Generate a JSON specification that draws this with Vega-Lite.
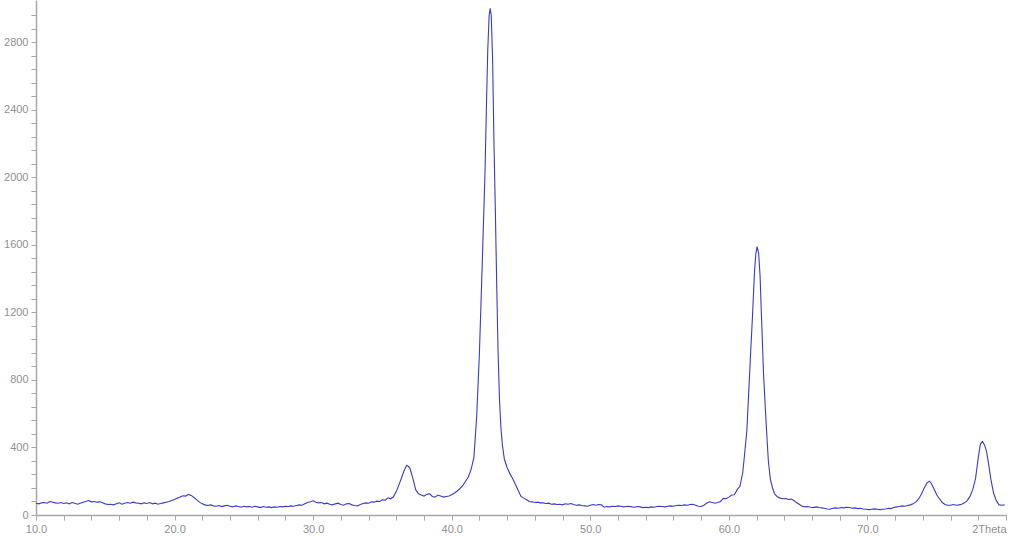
{
  "$schema": "https://vega.github.io/schema/vega-lite/v6.json",
  "width": 970,
  "height": 515,
  "autosize": {"type": "none"},
  "padding": {"left": 36, "top": 0, "right": 4, "bottom": 21},
  "background": "white",
  "view": {"stroke": null},
  "config": {"font": "Liberation Sans"},
  "data": {"values": [
    {"t":10.0,"c":70},{"t":10.2,"c":66},{"t":10.4,"c":72},{"t":10.6,"c":74},{"t":10.8,"c":70},{"t":11.0,"c":80},{"t":11.2,"c":76},{"t":11.4,"c":72},{"t":11.6,"c":70},{"t":11.8,"c":74},
    {"t":12.0,"c":68},{"t":12.2,"c":72},{"t":12.4,"c":66},{"t":12.6,"c":74},{"t":12.8,"c":70},{"t":13.0,"c":64},{"t":13.2,"c":70},{"t":13.4,"c":76},{"t":13.6,"c":80},{"t":13.8,"c":86},
    {"t":14.0,"c":78},{"t":14.2,"c":80},{"t":14.4,"c":76},{"t":14.6,"c":78},{"t":14.8,"c":72},{"t":15.0,"c":66},{"t":15.2,"c":62},{"t":15.4,"c":64},{"t":15.6,"c":60},{"t":15.8,"c":66},
    {"t":16.0,"c":72},{"t":16.2,"c":64},{"t":16.4,"c":70},{"t":16.6,"c":74},{"t":16.8,"c":70},{"t":17.0,"c":76},{"t":17.2,"c":72},{"t":17.4,"c":70},{"t":17.6,"c":66},{"t":17.8,"c":72},
    {"t":18.0,"c":68},{"t":18.2,"c":74},{"t":18.4,"c":66},{"t":18.6,"c":70},{"t":18.8,"c":64},{"t":19.0,"c":68},{"t":19.2,"c":72},{"t":19.4,"c":76},{"t":19.6,"c":80},{"t":19.8,"c":86},
    {"t":20.0,"c":92},{"t":20.2,"c":100},{"t":20.4,"c":106},{"t":20.6,"c":114},{"t":20.8,"c":112},{"t":21.0,"c":122},{"t":21.2,"c":116},{"t":21.4,"c":104},{"t":21.6,"c":90},{"t":21.8,"c":76},
    {"t":22.0,"c":66},{"t":22.2,"c":60},{"t":22.4,"c":56},{"t":22.6,"c":60},{"t":22.8,"c":54},{"t":23.0,"c":52},{"t":23.2,"c":56},{"t":23.4,"c":50},{"t":23.6,"c":54},{"t":23.8,"c":58},
    {"t":24.0,"c":52},{"t":24.2,"c":48},{"t":24.4,"c":54},{"t":24.6,"c":50},{"t":24.8,"c":46},{"t":25.0,"c":52},{"t":25.2,"c":48},{"t":25.4,"c":50},{"t":25.6,"c":46},{"t":25.8,"c":52},
    {"t":26.0,"c":48},{"t":26.2,"c":44},{"t":26.4,"c":50},{"t":26.6,"c":46},{"t":26.8,"c":48},{"t":27.0,"c":44},{"t":27.2,"c":48},{"t":27.4,"c":46},{"t":27.6,"c":50},{"t":27.8,"c":48},
    {"t":28.0,"c":52},{"t":28.2,"c":50},{"t":28.4,"c":54},{"t":28.6,"c":52},{"t":28.8,"c":56},{"t":29.0,"c":60},{"t":29.2,"c":58},{"t":29.4,"c":66},{"t":29.6,"c":74},{"t":29.8,"c":78},
    {"t":30.0,"c":84},{"t":30.2,"c":76},{"t":30.4,"c":72},{"t":30.6,"c":74},{"t":30.8,"c":66},{"t":31.0,"c":70},{"t":31.2,"c":64},{"t":31.4,"c":60},{"t":31.6,"c":66},{"t":31.8,"c":70},
    {"t":32.0,"c":62},{"t":32.2,"c":58},{"t":32.4,"c":66},{"t":32.6,"c":68},{"t":32.8,"c":60},{"t":33.0,"c":56},{"t":33.2,"c":54},{"t":33.4,"c":62},{"t":33.6,"c":68},{"t":33.8,"c":72},
    {"t":34.0,"c":70},{"t":34.2,"c":78},{"t":34.4,"c":76},{"t":34.6,"c":82},{"t":34.8,"c":80},{"t":35.0,"c":90},{"t":35.2,"c":88},{"t":35.4,"c":102},{"t":35.6,"c":96},{"t":35.8,"c":108},
    {"t":36.0,"c":140},{"t":36.2,"c":180},{"t":36.4,"c":225},{"t":36.6,"c":270},{"t":36.75,"c":294},{"t":36.9,"c":286},{"t":37.0,"c":274},{"t":37.2,"c":215},{"t":37.4,"c":150},{"t":37.6,"c":126},
    {"t":37.8,"c":118},{"t":38.0,"c":112},{"t":38.2,"c":122},{"t":38.4,"c":126},{"t":38.6,"c":110},{"t":38.8,"c":106},{"t":39.0,"c":118},{"t":39.2,"c":112},{"t":39.4,"c":106},{"t":39.6,"c":110},
    {"t":39.8,"c":112},{"t":40.0,"c":120},{"t":40.2,"c":130},{"t":40.4,"c":142},{"t":40.6,"c":157},{"t":40.8,"c":175},{"t":41.0,"c":200},{"t":41.2,"c":225},{"t":41.4,"c":270},{"t":41.6,"c":340},
    {"t":41.8,"c":580},{"t":42.0,"c":960},{"t":42.2,"c":1480},{"t":42.3,"c":1754},{"t":42.4,"c":2020},{"t":42.5,"c":2400},{"t":42.6,"c":2750},{"t":42.7,"c":2960},{"t":42.78,"c":3000},{"t":42.85,"c":2960},
    {"t":42.95,"c":2700},{"t":43.05,"c":2200},{"t":43.15,"c":1800},{"t":43.25,"c":1350},{"t":43.35,"c":950},{"t":43.45,"c":680},{"t":43.55,"c":520},{"t":43.65,"c":420},{"t":43.8,"c":330},{"t":44.0,"c":280},
    {"t":44.2,"c":245},{"t":44.4,"c":215},{"t":44.6,"c":180},{"t":44.8,"c":145},{"t":45.0,"c":110},{"t":45.2,"c":100},{"t":45.4,"c":90},{"t":45.6,"c":80},{"t":45.8,"c":78},{"t":46.0,"c":74},
    {"t":46.2,"c":76},{"t":46.4,"c":72},{"t":46.6,"c":72},{"t":46.8,"c":68},{"t":47.0,"c":70},{"t":47.2,"c":64},{"t":47.4,"c":66},{"t":47.6,"c":62},{"t":47.8,"c":64},{"t":48.0,"c":60},
    {"t":48.2,"c":66},{"t":48.4,"c":64},{"t":48.6,"c":68},{"t":48.8,"c":62},{"t":49.0,"c":58},{"t":49.2,"c":60},{"t":49.4,"c":56},{"t":49.6,"c":54},{"t":49.8,"c":52},{"t":50.0,"c":58},
    {"t":50.2,"c":62},{"t":50.4,"c":58},{"t":50.6,"c":62},{"t":50.8,"c":60},{"t":51.0,"c":46},{"t":51.2,"c":50},{"t":51.4,"c":48},{"t":51.6,"c":52},{"t":51.8,"c":50},{"t":52.0,"c":54},
    {"t":52.2,"c":52},{"t":52.4,"c":48},{"t":52.6,"c":50},{"t":52.8,"c":52},{"t":53.0,"c":48},{"t":53.2,"c":46},{"t":53.4,"c":50},{"t":53.6,"c":48},{"t":53.8,"c":44},{"t":54.0,"c":46},
    {"t":54.2,"c":44},{"t":54.4,"c":48},{"t":54.6,"c":46},{"t":54.8,"c":50},{"t":55.0,"c":52},{"t":55.2,"c":50},{"t":55.4,"c":48},{"t":55.6,"c":52},{"t":55.8,"c":54},{"t":56.0,"c":52},
    {"t":56.2,"c":56},{"t":56.4,"c":58},{"t":56.6,"c":56},{"t":56.8,"c":60},{"t":57.0,"c":58},{"t":57.2,"c":62},{"t":57.4,"c":64},{"t":57.6,"c":58},{"t":57.8,"c":52},{"t":58.0,"c":50},
    {"t":58.2,"c":58},{"t":58.4,"c":70},{"t":58.6,"c":78},{"t":58.8,"c":74},{"t":59.0,"c":70},{"t":59.2,"c":74},{"t":59.4,"c":80},{"t":59.6,"c":98},{"t":59.8,"c":96},{"t":60.0,"c":106},
    {"t":60.2,"c":118},{"t":60.4,"c":120},{"t":60.6,"c":150},{"t":60.8,"c":170},{"t":61.0,"c":250},{"t":61.1,"c":330},{"t":61.3,"c":500},{"t":61.5,"c":840},{"t":61.7,"c":1170},{"t":61.85,"c":1440},
    {"t":61.95,"c":1550},{"t":62.04,"c":1590},{"t":62.15,"c":1550},{"t":62.25,"c":1420},{"t":62.35,"c":1186},{"t":62.5,"c":840},{"t":62.7,"c":530},{"t":62.85,"c":320},{"t":63.0,"c":210},{"t":63.15,"c":160},
    {"t":63.3,"c":125},{"t":63.5,"c":108},{"t":63.7,"c":100},{"t":63.9,"c":96},{"t":64.1,"c":98},{"t":64.3,"c":92},{"t":64.5,"c":94},{"t":64.7,"c":86},{"t":64.9,"c":72},{"t":65.1,"c":62},
    {"t":65.3,"c":52},{"t":65.5,"c":48},{"t":65.7,"c":50},{"t":65.9,"c":46},{"t":66.1,"c":44},{"t":66.3,"c":48},{"t":66.5,"c":44},{"t":66.7,"c":42},{"t":66.9,"c":40},{"t":67.1,"c":36},
    {"t":67.3,"c":34},{"t":67.5,"c":40},{"t":67.7,"c":42},{"t":67.9,"c":40},{"t":68.1,"c":44},{"t":68.3,"c":42},{"t":68.5,"c":46},{"t":68.7,"c":44},{"t":68.9,"c":40},{"t":69.1,"c":42},
    {"t":69.3,"c":38},{"t":69.5,"c":40},{"t":69.7,"c":36},{"t":69.9,"c":34},{"t":70.1,"c":32},{"t":70.3,"c":34},{"t":70.5,"c":36},{"t":70.7,"c":34},{"t":70.9,"c":32},{"t":71.1,"c":34},
    {"t":71.3,"c":36},{"t":71.5,"c":40},{"t":71.7,"c":38},{"t":71.9,"c":44},{"t":72.1,"c":48},{"t":72.3,"c":50},{"t":72.5,"c":54},{"t":72.7,"c":52},{"t":72.9,"c":56},{"t":73.1,"c":60},
    {"t":73.3,"c":66},{"t":73.5,"c":78},{"t":73.7,"c":95},{"t":73.9,"c":125},{"t":74.1,"c":160},{"t":74.3,"c":190},{"t":74.48,"c":200},{"t":74.6,"c":188},{"t":74.8,"c":155},{"t":75.0,"c":120},
    {"t":75.2,"c":95},{"t":75.4,"c":74},{"t":75.6,"c":62},{"t":75.8,"c":58},{"t":76.0,"c":58},{"t":76.2,"c":62},{"t":76.4,"c":58},{"t":76.6,"c":60},{"t":76.8,"c":64},{"t":77.0,"c":72},
    {"t":77.2,"c":85},{"t":77.4,"c":110},{"t":77.6,"c":150},{"t":77.8,"c":215},{"t":78.0,"c":340},{"t":78.15,"c":420},{"t":78.3,"c":435},{"t":78.45,"c":415},{"t":78.6,"c":375},{"t":78.75,"c":300},
    {"t":78.9,"c":215},{"t":79.1,"c":130},{"t":79.3,"c":85},{"t":79.5,"c":60},{"t":79.7,"c":58},{"t":79.9,"c":60}
  ]},
  "mark": {"type": "line", "color": "#3a3acc", "strokeWidth": 1.1, "interpolate": "linear"},
  "encoding": {
    "x": {
      "field": "t", "type": "quantitative",
      "scale": {"domain": [10, 80], "nice": false, "zero": false},
      "axis": {
        "title": null, "grid": false,
        "values": [10,12,14,16,18,20,22,24,26,28,30,32,34,36,38,40,42,44,46,48,50,52,54,56,58,60,62,64,66,68,70,72,74,76,78,80],
        "labelExpr": "datum.value == 80 ? '2Theta' : (datum.value % 10 == 0 ? format(datum.value, '.1f') : '')",
        "labelAlign": {"condition": {"test": "datum.value == 80", "value": "right"}, "value": "center"},
        "labelOverlap": false,
        "labelFontSize": 11, "labelColor": "#909090", "labelPadding": 3,
        "tickSize": 5, "tickColor": "#a8a8a8", "domainColor": "#a8a8a8", "domainWidth": 1.5
      }
    },
    "y": {
      "field": "c", "type": "quantitative",
      "scale": {"domain": [0, 3050], "nice": false},
      "axis": {
        "title": null, "grid": false,
        "values": [0,80,160,240,320,400,480,560,640,720,800,880,960,1040,1120,1200,1280,1360,1440,1520,1600,1680,1760,1840,1920,2000,2080,2160,2240,2320,2400,2480,2560,2640,2720,2800,2880,2960],
        "labelExpr": "datum.value % 400 == 0 ? format(datum.value, 'd') : ''",
        "labelOverlap": false,
        "labelFontSize": 11, "labelColor": "#909090", "labelPadding": 3,
        "tickSize": 5, "tickColor": "#a8a8a8", "domainColor": "#a8a8a8", "domainWidth": 1.5
      }
    }
  }
}
